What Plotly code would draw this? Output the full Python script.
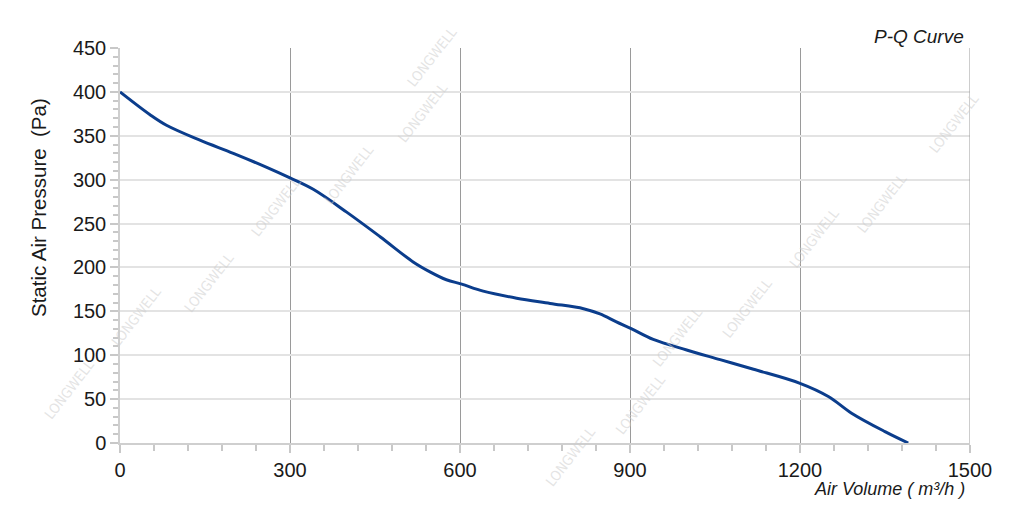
import plotly.graph_objects as go

# Data
air_volume = [0, 53, 82, 141, 200, 259, 300, 341, 400, 459, 518, 547, 576, 603, 641,
              700, 759, 818, 847, 876, 903, 941, 1000, 1059, 1118, 1200, 1250, 1291, 1350, 1391]
static_pressure = [400, 374, 362, 345, 330, 314, 302, 289, 263, 235, 206, 195, 186, 181, 173,
                   165, 159, 153, 147, 138, 130, 118, 106, 95, 84, 68, 53, 34, 13, 0]

x_ticks = [0, 300, 600, 900, 1200, 1500]
y_ticks = [0, 50, 100, 150, 200, 250, 300, 350, 400, 450]

watermark_text = "LONGWELL"
watermark_pos = [(38, 425), (105, 352), (178, 283), (245, 207), (318, 140), (392, 78), (432, 22),
                 (570, 492), (640, 440), (708, 372), (778, 308), (845, 238), (913, 168), (985, 88)]

FONT = "Liberation Sans, Arial, sans-serif"
WM_FONT = "DejaVu Sans Condensed, Liberation Sans Narrow, Liberation Sans, sans-serif"

# plot-area geometry (pixels) used to place the free texts
L, R, T, B = 120, 970, 48, 443


def to_paper(px, py):
    return (px - L) / (R - L), (B - py) / (B - T)


fig = go.Figure()
fig.add_trace(go.Scatter(
    x=air_volume, y=static_pressure, mode="lines",
    line=dict(color="#0b3d8c", width=3, shape="spline", smoothing=1.0),
    hoverinfo="x+y", showlegend=False,
))

annotations = []
for (px, py) in watermark_pos:
    xp, yp = to_paper(px, py)
    annotations.append(dict(
        text=watermark_text, xref="paper", yref="paper",
        x=xp, y=yp, showarrow=False, textangle=-52,
        font=dict(family=WM_FONT, size=14, color="rgba(205,205,205,0.55)"),
    ))
xp, yp = to_paper(966, 36)
annotations.append(dict(
    text="<i>P-Q Curve</i>", xref="paper", yref="paper",
    x=xp, y=yp, xanchor="right", yanchor="middle", showarrow=False,
    font=dict(family=FONT, size=19, color="#1a1a1a"),
))
xp, yp = to_paper(967, 489)
annotations.append(dict(
    text="<i>Air Volume ( m³/h )</i>", xref="paper", yref="paper",
    x=xp, y=yp, xanchor="right", yanchor="middle", showarrow=False,
    font=dict(family=FONT, size=18, color="#1a1a1a"),
))
xp, yp = to_paper(38, 208)
annotations.append(dict(
    text="Static Air Pressure  (Pa)", xref="paper", yref="paper",
    x=xp, y=yp, xanchor="center", yanchor="middle", showarrow=False, textangle=-90,
    font=dict(family=FONT, size=20.5, color="#1a1a1a"),
))

fig.update_layout(
    width=1024, height=527,
    margin=dict(l=L, r=1024 - R, t=T, b=527 - B),
    paper_bgcolor="white", plot_bgcolor="white",
    font=dict(family=FONT, color="#1a1a1a"),
    annotations=annotations,
    xaxis=dict(
        range=[0, 1500], tickvals=x_ticks, ticktext=[str(v) for v in x_ticks],
        tickfont=dict(size=20, color="#1a1a1a"),
        showgrid=True, gridcolor="#9a9a9a", gridwidth=1,
        showline=True, linecolor="#cfcfcf", linewidth=1.5, mirror=False,
        ticks="outside", ticklen=8, tickcolor="#c8c8c8", tickwidth=1.5,
        minor=dict(dtick=60, ticks="outside", ticklen=6, tickcolor="#c8c8c8", showgrid=False),
        zeroline=False, fixedrange=True,
    ),
    yaxis=dict(
        range=[0, 450], tickvals=y_ticks, ticktext=[str(v) for v in y_ticks],
        tickfont=dict(size=20, color="#1a1a1a"),
        showgrid=True, gridcolor="#e3e3e3", gridwidth=1.5,
        showline=True, linecolor="#cfcfcf", linewidth=1.5,
        ticks="outside", ticklen=8, tickcolor="#c8c8c8", tickwidth=1.5,
        minor=dict(dtick=10, ticks="outside", ticklen=5, tickcolor="#c8c8c8", showgrid=False),
        zeroline=False, fixedrange=True,
    ),
    shapes=[dict(type="line", xref="x", yref="paper", x0=1500, x1=1500, y0=0, y1=1,
                 line=dict(color="#9a9a9a", width=1))],
)

fig.write_html("out.html", config={"displayModeBar": False},
               post_script="document.body.style.margin='0';")
